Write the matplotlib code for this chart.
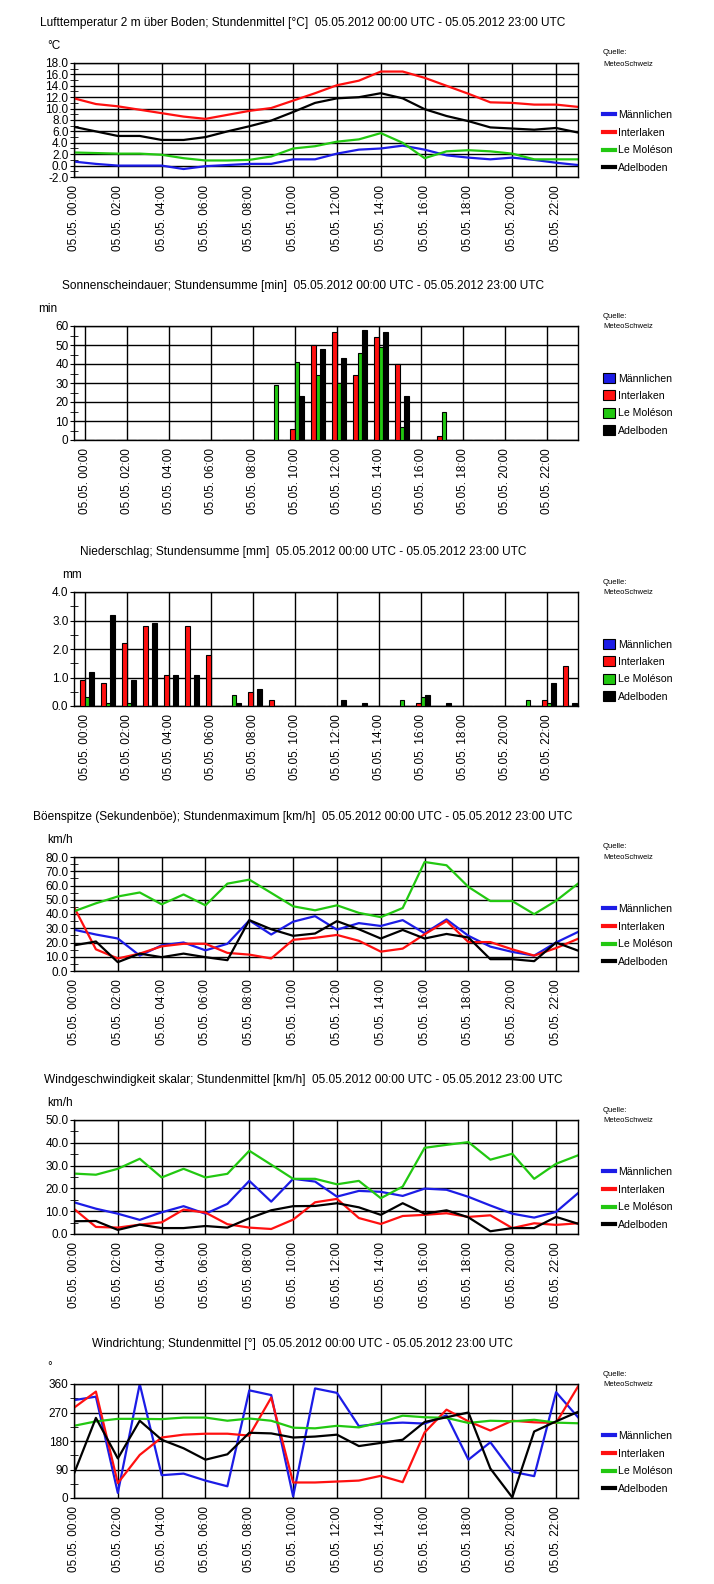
import matplotlib
matplotlib.use('Agg')
import matplotlib.pyplot as plt
import matplotlib.transforms as mtransforms
from matplotlib.ticker import MultipleLocator, FormatStrFormatter
from matplotlib.lines import Line2D
from matplotlib.patches import Patch

plt.rcParams['font.family'] = ['Liberation Sans', 'DejaVu Sans']

# --- data -------------------------------------------------------------
hours = list(range(24))
hour_labels = ['05.05. %02d:00' % h for h in range(0, 24, 2)]
stations = ['Männlichen', 'Interlaken', 'Le Moléson', 'Adelboden']
colors = ['#1c1ce6', '#ff1010', '#22c811', '#000000']
period = '05.05.2012 00:00 UTC - 05.05.2012 23:00 UTC'

# air temperature [°C]
temp_maennlichen = [0.7, 0.3, 0.0, 0.0, 0.0, -0.6, -0.1, 0.1, 0.3, 0.3, 1.1, 1.1,
                    2.1, 2.8, 3.0, 3.5, 2.8, 1.8, 1.4, 1.1, 1.4, 1.0, 0.5, 0.1]
temp_interlaken = [11.8, 10.8, 10.4, 9.8, 9.2, 8.6, 8.2, 8.9, 9.6, 10.1, 11.4, 12.7,
                   14.1, 14.9, 16.5, 16.5, 15.4, 14.0, 12.6, 11.1, 11.0, 10.7, 10.7, 10.3]
temp_moleson = [2.3, 2.2, 2.1, 2.1, 1.9, 1.3, 0.9, 0.9, 1.0, 1.6, 3.0, 3.4,
                4.2, 4.6, 5.7, 4.0, 1.3, 2.5, 2.7, 2.5, 2.1, 1.1, 1.1, 1.1]
temp_adelboden = [6.8, 6.0, 5.2, 5.2, 4.5, 4.5, 5.0, 6.0, 6.9, 7.9, 9.4, 11.0,
                  11.8, 12.0, 12.7, 11.8, 9.9, 8.7, 7.8, 6.7, 6.5, 6.3, 6.6, 5.8]

# sunshine duration [min]
sun_maennlichen = [0, 0, 0, 0, 0, 0, 0, 0, 0, 0, 0, 0,
                   0, 0, 0, 0, 0, 0, 0, 0, 0, 0, 0, 0]
sun_interlaken = [0, 0, 0, 0, 0, 0, 0, 0, 0, 0, 6, 50,
                  57, 34, 54, 40, 0, 2, 0, 0, 0, 0, 0, 0]
sun_moleson = [0, 0, 0, 0, 0, 0, 0, 0, 0, 29, 41, 34,
               30, 46, 49, 7, 0, 15, 0, 0, 0, 0, 0, 0]
sun_adelboden = [0, 0, 0, 0, 0, 0, 0, 0, 0, 0, 23, 48,
                 43, 58, 57, 23, 0, 0, 0, 0, 0, 0, 0, 0]

# precipitation [mm]
rain_maennlichen = [0, 0, 0, 0, 0, 0, 0, 0, 0, 0, 0, 0,
                    0, 0, 0, 0, 0, 0, 0, 0, 0, 0, 0, 0]
rain_interlaken = [0.9, 0.8, 2.2, 2.8, 1.1, 2.8, 1.8, 0, 0.5, 0.2, 0, 0,
                   0, 0, 0, 0, 0.1, 0, 0, 0, 0, 0, 0.2, 1.4]
rain_moleson = [0.3, 0.1, 0.1, 0, 0, 0, 0, 0.4, 0, 0, 0, 0,
                0, 0, 0, 0.2, 0.3, 0, 0, 0, 0, 0.2, 0.1, 0]
rain_adelboden = [1.2, 3.2, 0.9, 2.9, 1.1, 1.1, 0, 0.1, 0.6, 0, 0, 0,
                  0.2, 0.1, 0, 0, 0.4, 0.1, 0, 0, 0, 0, 0.8, 0.1]

# gust peak [km/h]
gust_maennlichen = [29.0, 25.6, 22.8, 10.8, 18.0, 20.0, 14.5, 19.1, 35.5, 25.6, 34.6, 38.5,
                    29.0, 33.6, 31.6, 35.7, 26.5, 36.2, 24.7, 17.1, 13.4, 10.8, 20.0, 27.4]
gust_interlaken = [44.9, 15.2, 8.8, 12.2, 17.3, 19.1, 19.1, 12.7, 11.5, 8.8, 21.9, 23.3,
                   25.3, 21.2, 13.6, 15.7, 25.8, 35.0, 20.3, 20.3, 15.2, 10.8, 16.1, 22.6]
gust_moleson = [41.9, 47.5, 52.3, 55.1, 46.8, 53.7, 46.1, 61.3, 64.1, 54.8, 45.4, 42.6,
                46.1, 40.8, 37.8, 44.2, 76.5, 74.2, 59.0, 49.1, 49.1, 39.9, 49.3, 61.3]
gust_adelboden = [18.0, 20.7, 6.2, 12.2, 9.7, 12.2, 9.7, 7.6, 35.7, 29.3, 24.7, 26.3,
                  35.0, 29.3, 22.8, 28.8, 22.8, 26.0, 23.5, 8.3, 8.3, 6.9, 20.0, 14.3]

# wind speed [km/h]
wind_maennlichen = [13.9, 11.1, 8.9, 6.2, 9.5, 12.2, 8.9, 13.2, 23.3, 14.2, 24.2, 23.0,
                    16.4, 18.9, 18.5, 16.7, 19.9, 19.4, 16.3, 12.5, 8.9, 7.2, 9.7, 17.9]
wind_interlaken = [11.0, 3.1, 2.8, 4.1, 5.1, 10.7, 9.4, 4.3, 2.8, 2.2, 6.3, 13.9,
                   15.4, 7.0, 4.4, 7.9, 8.4, 9.1, 7.5, 8.2, 2.6, 4.7, 4.0, 4.7]
wind_moleson = [26.5, 26.0, 28.6, 33.0, 24.8, 28.6, 24.8, 26.4, 36.5, 30.4, 24.2, 24.2,
                21.8, 23.3, 15.7, 20.8, 37.8, 39.1, 40.3, 32.6, 35.2, 24.2, 30.8, 34.5]
wind_adelboden = [5.6, 5.7, 1.8, 4.1, 2.6, 2.6, 3.5, 2.8, 6.9, 10.4, 12.2, 12.3,
                  13.5, 11.7, 8.4, 13.5, 8.9, 10.4, 7.3, 1.2, 2.6, 2.6, 7.5, 4.5]

# wind direction [°]
dir_maennlichen = [309, 320, 16, 360, 72, 77, 55, 37, 340, 325, 5, 346,
                   332, 227, 235, 238, 235, 261, 121, 176, 83, 69, 334, 255]
dir_interlaken = [285, 336, 47, 136, 191, 200, 203, 203, 197, 317, 49, 49,
                  52, 55, 70, 50, 207, 279, 242, 213, 244, 239, 237, 352]
dir_moleson = [228, 242, 250, 250, 249, 254, 254, 244, 251, 244, 222, 220,
               228, 223, 239, 260, 255, 253, 237, 244, 242, 247, 238, 236]
dir_adelboden = [77, 253, 125, 244, 184, 157, 121, 138, 206, 204, 191, 194,
                 200, 164, 174, 184, 240, 255, 270, 93, 2, 210, 242, 272]

# --- layout -----------------------------------------------------------
W, H = 714, 1584
fig = plt.figure(figsize=(W / 100, H / 100), dpi=100)
LEFT, RIGHT, PH = 74, 578, 114


def px(x, y):
    return x / W, 1 - y / H


def panel(top, title, unit, unit_x, ylim, major, minor, fmt, bars):
    ax = fig.add_axes([LEFT / W, 1 - (top + PH) / H, (RIGHT - LEFT) / W, PH / H])
    fig.text(*px(303, top - 40), title, ha='center', va='center', fontsize=8.6)
    fig.text(*px(unit_x, top - 17), unit, ha='left', va='center', fontsize=8.5)
    fig.text(*px(603, top - 10), 'Quelle:', ha='left', va='center', fontsize=5.5)
    fig.text(*px(603, top + 1), 'MeteoSchweiz', ha='left', va='center', fontsize=5.5)
    ax.set_ylim(*ylim)
    if bars:
        ax.set_xlim(-0.5, 23.5)
    else:
        ax.set_xlim(0, 23)
    ax.yaxis.set_major_locator(MultipleLocator(major))
    ax.yaxis.set_minor_locator(MultipleLocator(minor))
    ax.yaxis.set_major_formatter(FormatStrFormatter(fmt))
    ax.set_xticks(range(0, 24, 2))
    ax.set_xticklabels(hour_labels, rotation=90, fontsize=8.5)
    shift = mtransforms.ScaledTranslation(2 / 100, 0, fig.dpi_scale_trans)
    for lab in ax.get_xticklabels():
        lab.set_transform(lab.get_transform() + shift)
    ax.tick_params(axis='x', length=0, pad=6)
    ax.tick_params(axis='y', which='major', direction='out', length=3, labelsize=8.5, pad=1)
    ax.tick_params(axis='y', which='minor', direction='inout', length=6)
    ax.grid(True, color='black', lw=1.0)
    ax.set_axisbelow(True)
    for s in ax.spines.values():
        s.set_linewidth(1.0)
    if bars:
        handles = [Patch(facecolor=c, edgecolor='black', lw=0.8) for c in colors]
        hl, hh, ls = 1.1, 1.1, 0.63
    else:
        handles = [Line2D([], [], color=c, lw=3) for c in colors]
        hl, hh, ls = 1.1, 0.7, 0.72
    fig.legend(handles, stations, loc='upper left', bbox_to_anchor=px(603, top + 47),
               frameon=False, fontsize=7.6, handlelength=hl, handleheight=hh,
               handletextpad=0.3, labelspacing=ls, borderpad=0, borderaxespad=0)
    return ax


tops = [63, 326, 592, 857, 1120, 1384]

ax1 = panel(tops[0], 'Lufttemperatur 2 m über Boden; Stundenmittel [°C]  ' + period,
            '°C', 47, (-2, 18), 2, 1, '%.1f', False)
for vals, c in zip([temp_maennlichen, temp_interlaken, temp_moleson, temp_adelboden], colors):
    ax1.plot(hours, vals, color=c, lw=1.6)

ax2 = panel(tops[1], 'Sonnenscheindauer; Stundensumme [min]  ' + period,
            'min', 38, (0, 60), 10, 5, '%d', True)
offsets = [-0.33, -0.11, 0.11, 0.33]
for vals, c, o in zip([sun_maennlichen, sun_interlaken, sun_moleson, sun_adelboden], colors, offsets):
    ax2.bar([h + o for h in hours], vals, width=0.22, color=c, edgecolor='black', lw=0.8, zorder=3)

ax3 = panel(tops[2], 'Niederschlag; Stundensumme [mm]  ' + period,
            'mm', 62, (0, 4), 1, 0.5, '%.1f', True)
for vals, c, o in zip([rain_maennlichen, rain_interlaken, rain_moleson, rain_adelboden], colors, offsets):
    ax3.bar([h + o for h in hours], vals, width=0.22, color=c, edgecolor='black', lw=0.8, zorder=3)

ax4 = panel(tops[3], 'Böenspitze (Sekundenböe); Stundenmaximum [km/h]  ' + period,
            'km/h', 47, (0, 80), 10, 5, '%.1f', False)
for vals, c in zip([gust_maennlichen, gust_interlaken, gust_moleson, gust_adelboden], colors):
    ax4.plot(hours, vals, color=c, lw=1.6)

ax5 = panel(tops[4], 'Windgeschwindigkeit skalar; Stundenmittel [km/h]  ' + period,
            'km/h', 47, (0, 50), 10, 5, '%.1f', False)
for vals, c in zip([wind_maennlichen, wind_interlaken, wind_moleson, wind_adelboden], colors):
    ax5.plot(hours, vals, color=c, lw=1.6)

ax6 = panel(tops[5], 'Windrichtung; Stundenmittel [°]  ' + period,
            '°', 47, (0, 360), 90, 45, '%d', False)
for vals, c in zip([dir_maennlichen, dir_interlaken, dir_moleson, dir_adelboden], colors):
    ax6.plot(hours, vals, color=c, lw=1.6)

fig.savefig('out.png', dpi=100)
